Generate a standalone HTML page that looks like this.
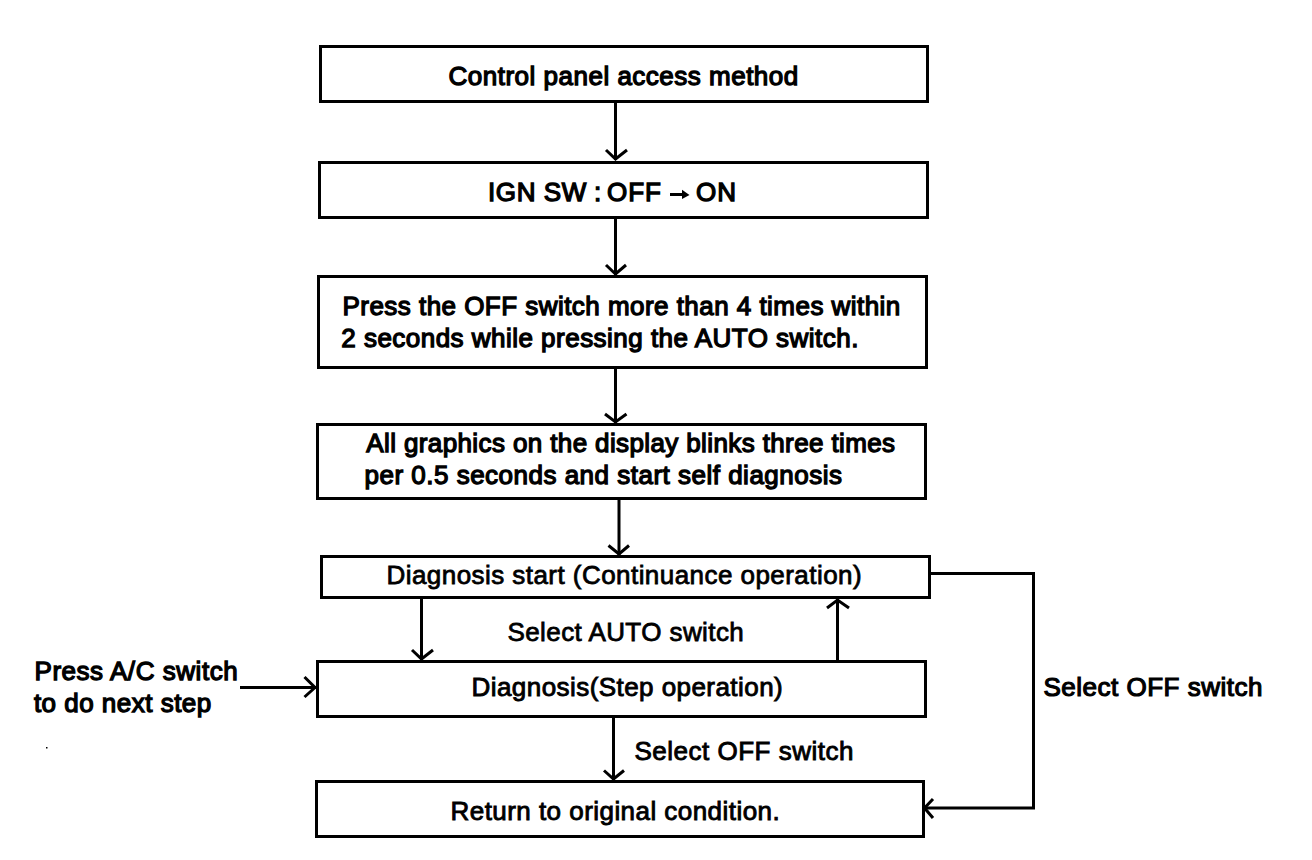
<!DOCTYPE html>
<html><head><meta charset="utf-8"><style>
html,body{margin:0;padding:0;background:#fff;}
body{width:1312px;height:860px;overflow:hidden;}
svg{display:block;}
text{font-family:"Liberation Sans",sans-serif;font-size:26.0px;fill:#000;stroke:#000;stroke-width:1.3px;}
</style></head><body>
<svg width="1312" height="860" viewBox="0 0 1312 860">
<g fill="none" stroke="#000" stroke-width="3">
<rect x="320.5" y="46.5" width="607" height="55"/>
<rect x="319.5" y="162.5" width="608" height="55"/>
<rect x="318.5" y="276.5" width="608" height="91"/>
<rect x="317.5" y="424.5" width="608" height="74"/>
<rect x="321.5" y="556.5" width="608" height="41"/>
<rect x="317.5" y="661.5" width="608" height="55"/>
<rect x="316.5" y="781.5" width="607" height="55"/>
<line x1="615.5" y1="103" x2="615.5" y2="160" stroke-width="3"/>
<polyline points="606,150 615.5,159 627,150" stroke-width="3" stroke-linecap="butt" stroke-linejoin="miter"/>
<line x1="615.5" y1="219" x2="615.5" y2="275" stroke-width="3"/>
<polyline points="606,265 615.5,274 626,265" stroke-width="3" stroke-linecap="butt" stroke-linejoin="miter"/>
<line x1="615.5" y1="369" x2="615.5" y2="423" stroke-width="3"/>
<polyline points="605,414 615.5,422 626.5,414" stroke-width="3" stroke-linecap="butt" stroke-linejoin="miter"/>
<line x1="619" y1="500" x2="619" y2="555" stroke-width="3"/>
<polyline points="608.5,545.5 619,554 629,545.5" stroke-width="3" stroke-linecap="butt" stroke-linejoin="miter"/>
<line x1="421.5" y1="599" x2="421.5" y2="660" stroke-width="3"/>
<polyline points="412,650 421.5,659 433,650" stroke-width="3" stroke-linecap="butt" stroke-linejoin="miter"/>
<line x1="613.5" y1="718" x2="613.5" y2="780" stroke-width="3"/>
<polyline points="604,770.5 613.5,779 624,770.5" stroke-width="3" stroke-linecap="butt" stroke-linejoin="miter"/>
<line x1="837.5" y1="660" x2="837.5" y2="599" stroke-width="3"/>
<polyline points="827,608 837.5,600 849,608" stroke-width="3" stroke-linecap="butt" stroke-linejoin="miter"/>
<line x1="240" y1="687.5" x2="316" y2="687.5" stroke-width="3"/>
<polyline points="304.5,677 315,687.5 304.5,697" stroke-width="3" stroke-linecap="butt" stroke-linejoin="miter"/>
<polyline points="931,573.5 1033.5,573.5 1033.5,808 925,808" stroke-width="3"/>
<polyline points="933,799 924.5,808 933,818" stroke-width="3" stroke-linecap="butt" stroke-linejoin="miter"/>
</g>
<g stroke="none" fill="#000"><rect x="670" y="193" width="13" height="3"/><polygon points="682,189.8 689.5,195 682,199"/></g>
<rect x="46" y="747" width="1.5" height="1.5" fill="#000"/>
<text x="448.5" y="85.0" textLength="349.75" lengthAdjust="spacing" style="stroke-width:1.3px">Control panel access method</text>
<text x="342.5" y="314.7" textLength="557.82" lengthAdjust="spacing" style="stroke-width:1.3px">Press the OFF switch more than 4 times within</text>
<text x="341.3" y="346.8" textLength="517.09" lengthAdjust="spacing" style="stroke-width:1.3px">2 seconds while pressing the AUTO switch.</text>
<text x="366.3" y="451.7" textLength="528.79" lengthAdjust="spacing" style="stroke-width:1.3px">All graphics on the display blinks three times</text>
<text x="364.5" y="484.0" textLength="477.47" lengthAdjust="spacing" style="stroke-width:1.3px">per 0.5 seconds and start self diagnosis</text>
<text x="386.5" y="584.0" textLength="475.14" lengthAdjust="spacing" style="stroke-width:0.8px">Diagnosis start (Continuance operation)</text>
<text x="471.5" y="696.0" textLength="311.23" lengthAdjust="spacing" style="stroke-width:0.9px">Diagnosis(Step operation)</text>
<text x="450.5" y="820.0" textLength="329.23" lengthAdjust="spacing" style="stroke-width:0.9px">Return to original condition.</text>
<text x="507.5" y="641.0" textLength="236.27" lengthAdjust="spacing" style="stroke-width:0.8px">Select AUTO switch</text>
<text x="34.5" y="680.0" textLength="203.16" lengthAdjust="spacing" style="stroke-width:1.3px">Press A/C switch</text>
<text x="33.9" y="712.0" textLength="177.36" lengthAdjust="spacing" style="stroke-width:1.3px">to do next step</text>
<text x="1043.5" y="696.0" textLength="218.94" lengthAdjust="spacing" style="stroke-width:1.2px">Select OFF switch</text>
<text x="634.5" y="760.0" textLength="218.94" lengthAdjust="spacing" style="stroke-width:0.9px">Select OFF switch</text>
<text x="488" y="200.9" letter-spacing="0.6">IGN SW</text>
<text x="594" y="200.9">:</text>
<text x="607" y="200.9" letter-spacing="1">OFF</text>
<text x="696" y="200.9" letter-spacing="1">ON</text>
</svg>
</body></html>
